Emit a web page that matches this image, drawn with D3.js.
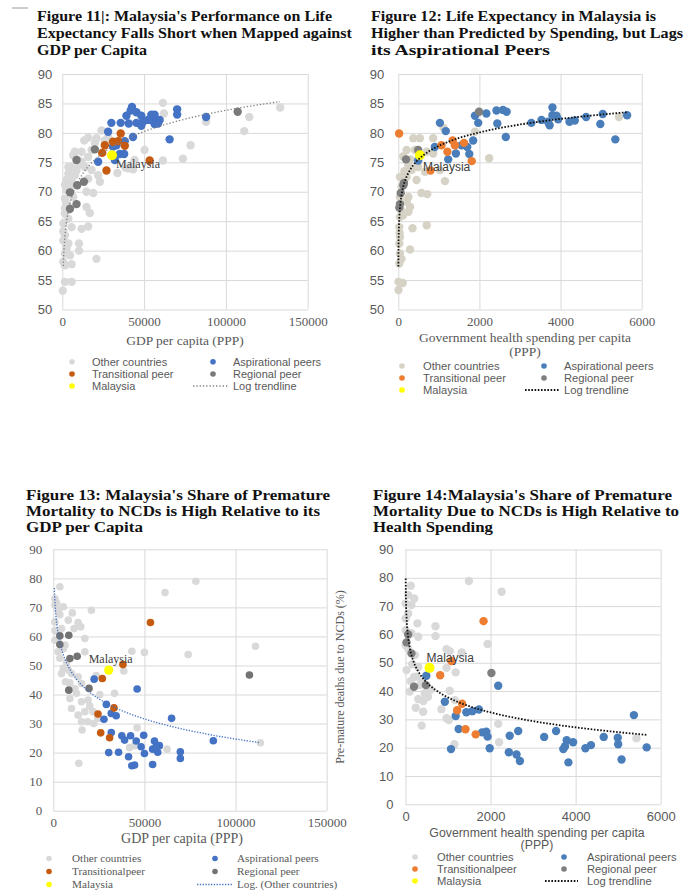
<!DOCTYPE html>
<html>
<head>
<meta charset="utf-8">
<script src="https://cdn.jsdelivr.net/npm/d3@7"></script>
<style>
body { margin: 0; background: #fff; }
</style>
</head>
<body>
<div id="chart"></div>
<script>
const ctx = {
    W: 684,
    H: 890,
    SERIF: "'Liberation Serif', 'Times New Roman', serif",
    SANS: "'Liberation Sans', Arial, sans-serif",
};

// ---- tick values ----
const leTicks = [50, 55, 60, 65, 70, 75, 80, 85, 90];
const ncdTicks = [0, 10, 20, 30, 40, 50, 60, 70, 80, 90];
const gdpTicks = [0, 50000, 100000, 150000];
const spendTicks = [0, 2000, 4000, 6000];

// ---- Figure 11: life expectancy vs GDP per capita ----
const fig11Other = [[61500,85.1],[62100,83.3],[87900,81.9],[114300,82.7],[111200,80.3],[133200,84.3],[78400,77.9],[73700,75.6],
    [61500,75.3],[50300,77.1],[43200,73.8],[38600,74.1],[33700,73.2],[24000,80.4],[20900,79.1],[15800,79.2],[13400,78.7],
    [17900,77.1],[11800,76.8],[7700,76.8],[15800,75.9],[11800,75.1],[13800,74.2],[5700,74.2],[3700,73.1],[7700,72.8],
    [17900,73.7],[21900,72.8],[23000,71.7],[15800,72.2],[2600,72.0],[4700,70.8],[14800,70.0],[18900,69.8],[1600,68.8],
    [2600,68.0],[6700,69.1],[14800,67.4],[16800,66.4],[1600,66.3],[3700,65.4],[5700,64.0],[600,64.6],[11800,63.7],
    [15800,64.1],[1600,62.6],[600,61.7],[10200,61.2],[10200,60.0],[3700,61.2],[1600,59.5],[4700,59.2],[600,58.1],
    [20900,58.6],[5700,57.7],[1600,57.5],[1600,54.7],[5700,54.7],[300,53.2],[6700,76.2],[9700,75.4],[3700,74.2],
    [26000,78.7],[28000,79.3],[19900,78.3],[43200,74.7],[44200,75.4],[40200,74.0],[2600,70.3],[1600,67.2],[3700,66.9],
    [600,63.3],[2600,60.4],[1600,71.2],[5700,71.8],[8700,73.6],[10700,74.6]];
const fig11Asp = [[42600,84.4],[41800,83.8],[45300,83.5],[39200,82.9],[48300,82.9],[54400,83.1],[56400,83.1],[59500,82.2],
    [70200,84.0],[70200,83.1],[30000,81.7],[35700,81.7],[40600,81.6],[45300,81.7],[49300,81.9],[56400,81.5],[58500,81.6],
    [48300,81.2],[28000,80.2],[43200,79.3],[38200,78.6],[65600,78.9],[87900,82.7],[35100,76.4],[37800,76.4],[21900,75.1],
    [32100,75.4],[31000,77.7],[33100,77.9],[55400,82.1],[52400,82.2]];
const fig11Trans = [[35700,79.9],[26000,77.9],[31000,78.5],[34100,78.6],[38200,77.8],[24400,76.6],[53400,75.3],[27000,73.6]];
const fig11Reg = [[19900,77.2],[8700,75.4],[13200,71.7],[9100,71.1],[4700,69.9],[8700,67.9],[4700,67.1],[107200,83.6]];
const fig11My = [[30400,76.2]];
const fig11TrendCoef = [5.17, 24.3];
const fig11TrendRange = [600, 133000];

// ---- Figure 12: life expectancy vs government health spending ----
const fig12Other = [[5440,82.7],[370,79.1],[530,79.1],[860,79.1],[1890,80.2],[1110,80.9],[205,77.1],[410,77.1],[700,76.8],
    [860,76.5],[250,74.5],[330,73.7],[490,74.2],[1025,73.7],[660,73.4],[1150,71.8],[2240,75.7],[205,72.5],[40,72.5],
    [450,72.0],[80,70.8],[570,69.8],[715,69.6],[40,69.1],[250,69.1],[205,68.3],[290,67.4],[250,66.6],[700,64.3],
    [350,63.8],[40,65.7],[25,64.0],[40,62.3],[25,61.2],[290,60.2],[40,59.5],[80,58.6],[25,57.8],[5,54.7],[110,54.5],
    [5,53.3],[120,76.0],[300,75.5],[150,73.5],[100,71.0],[60,67.0],[120,66.0],[30,63.0]];
const fig12Asp = [[1025,81.7],[1170,80.3],[1890,82.9],[2170,83.3],[1970,81.7],[2420,83.8],[2580,83.9],[2670,83.6],
    [2440,81.6],[2650,79.3],[3280,81.7],[3530,82.2],[3690,81.9],[3800,84.3],[3800,83.0],[3900,82.9],[3730,81.3],
    [3940,82.3],[4220,81.9],[4350,82.1],[4630,82.7],[5040,83.2],[4980,81.5],[5350,78.9],[5640,83.0],[900,77.6],
    [1420,76.5],[1230,75.5],[1750,76.4],[1700,77.6],[1845,78.7],[1560,77.9],[490,75.3]];
const fig12Trans = [[20,79.9],[1065,77.9],[1340,78.7],[1395,77.9],[1620,78.3],[1210,76.8],[1810,75.2],[795,73.6]];
const fig12Reg = [[1990,83.6],[490,77.1],[190,75.5],[140,71.5],[125,71.1],[60,69.8],[40,67.9],[25,67.3]];
const fig12My = [[533,76.2]];
const fig12TrendCoef = [3.3, 55.0];
const fig12TrendRange = [2, 5640];

// ---- Figure 13: premature NCD mortality vs GDP per capita ----
const fig13Other = [[3600,77.1],[78200,79.0],[61300,75.1],[900,73.0],[900,70.8],[2700,69.0],[5500,70.2],[10400,68.1],
    [20900,69.0],[13600,64.8],[15100,63.3],[17300,59.3],[900,65.0],[1800,61.8],[4500,62.7],[900,58.7],[5500,55.8],
    [110900,56.6],[43100,54.9],[50000,54.5],[74000,53.8],[17300,54.7],[2700,54.7],[38700,48.1],[5500,49.0],[4500,47.2],
    [10000,47.2],[6700,44.4],[13600,46.1],[15500,43.8],[12700,40.4],[33600,40.4],[9100,38.6],[10000,35.2],[15500,37.5],
    [19100,38.1],[17300,34.1],[13600,32.9],[21800,34.1],[15500,30.6],[18800,30.6],[24500,31.8],[22200,30.0],[15800,27.8],
    [46000,28.6],[44600,22.4],[41800,21.7],[62400,21.2],[14000,16.3],[113600,23.4],[6400,57.0],[8200,65.6],[11400,62.7],
    [1800,71.5],[3600,67.5],[900,62.0],[2700,59.0],[7300,51.0],[9100,44.0],[11800,42.0],[20000,36.0],[25500,40.0],
    [3600,52.5],[8200,48.5],[23600,46.5]];
const fig13Asp = [[22400,45.3],[46000,41.9],[29100,36.6],[31800,33.5],[34500,32.7],[27800,31.5],[64900,31.8],[31800,26.9],
    [37600,25.8],[39100,24.3],[42400,25.8],[45500,24.0],[49600,26.0],[55500,24.0],[58200,22.4],[48200,22.0],[54500,21.2],
    [50000,19.7],[57300,20.1],[30400,20.0],[35800,20.1],[41300,18.6],[43100,15.5],[44600,15.7],[54500,15.9],[69700,20.3],
    [69700,18.0],[87800,24.1],[56400,22.0]];
const fig13Trans = [[53300,64.8],[38200,50.3],[26900,45.5],[33300,35.4],[24500,33.3],[26000,26.8],[30900,25.1]];
const fig13Reg = [[3600,60.2],[8500,60.4],[3600,57.2],[13100,53.2],[9100,52.4],[8500,41.5],[19600,42.1],[107600,46.7]];
const fig13My = [[30400,48.4]];
const fig13TrendCoef = [-10.0, 139.8];
const fig13TrendRange = [550, 113600];

// ---- Figure 14: premature NCD mortality vs government health spending ----
const fig14Other = [[125,77.2],[1490,78.9],[2260,75.1],[205,72.7],[5,70.9],[63,67.4],[280,63.9],[705,62.9],[705,59.4],
    [300,59.2],[1930,56.6],[965,54.8],[1040,54.1],[1320,53.6],[5,61.5],[5,56.2],[220,52.7],[25,47.4],[965,48.2],
    [1180,46.6],[260,45.1],[380,43.3],[1040,40.1],[100,39.8],[300,37.2],[530,38.0],[240,34.1],[415,32.7],[845,33.6],
    [1160,36.8],[965,30.4],[1020,29.8],[380,27.8],[2180,28.4],[2200,21.9],[1150,21.2],[5430,23.3],[5,65.6],[63,73.9],
    [140,70.4],[140,60.4],[455,39.2],[340,42.1],[60,55.0],[160,49.5],[200,45.0],[300,48.5],[120,43.5],[420,36.5],[600,40.5]];
const fig14Asp = [[490,45.4],[925,36.2],[2180,41.9],[1180,31.2],[1430,32.5],[1570,32.9],[1725,33.5],[1250,26.6],
    [1800,25.4],[1900,25.6],[1930,23.9],[1070,19.5],[1980,19.8],[2450,24.2],[2650,25.9],[2430,18.4],[2610,17.6],
    [2690,15.3],[3260,23.8],[3540,25.9],[3790,22.6],[3940,21.9],[3750,20.5],[3710,19.5],[3830,14.8],[4230,19.8],
    [4360,20.9],[4660,23.8],[4990,23.5],[5000,21.2],[5080,15.8],[5370,31.5],[5670,20.1]];
const fig14Trans = [[1835,64.7],[1080,50.6],[815,45.6],[1330,35.5],[1215,33.2],[1410,26.5],[1650,24.7]];
const fig14Reg = [[2020,46.4],[63,60.0],[24,57.2],[140,53.3],[200,41.5],[480,42.1]];
const fig14My = [[565,48.2]];
const fig14TrendCoef = [-7.61, 90.3];
const fig14TrendRange = [4, 5670];

// ---- text ----
const title11 = ["Figure 11|: Malaysia's Performance on Life", "Expectancy Falls Short when Mapped against", "GDP per Capita"];
const title12 = ["Figure 12: Life Expectancy in Malaysia is", "Higher than Predicted by Spending, but Lags", "its Aspirational Peers"];
const title13 = ["Figure 13: Malaysia's Share of Premature", "Mortality to NCDs is High Relative to its", "GDP per Capita"];
const title14 = ["Figure 14:Malaysia's Share of Premature", "Mortality Due to NCDs is High Relative to", "Health Spending"];
const legend1112 = ["Other countries", "Transitional peer", "Malaysia", "Aspirational peers", "Regional peer", "Log trendline"];
const legend13 = ["Other countries", "Transitionalpeer", "Malaysia", "Aspirational peers", "Regional peer", "Log. (Other countries)"];
const legend14 = ["Other countries", "Transitionalpeer", "Malaysia", "Aspirational peers", "Regional peer", "Log trendline"];

function createViz() {
    const svg = d3.select("#chart")
        .append("svg")
        .attr("width", ctx.W)
        .attr("height", ctx.H)
        .style("font-family", ctx.SANS);

    // stray dash in the top left corner of the scan
    svg.append("line")
        .attr("x1", 12).attr("x2", 28).attr("y1", 8).attr("y2", 8)
        .attr("stroke", "#9a9a9a").attr("stroke-width", 1);

    const panels = [
        {
            title: title11, titleX: 37, titleY: 21, titleGap: 17.2, titleW: [295, 315, 110],
            x0: 62.3, x1: 307.7, y0: 309.5, y1: 74,
            xDomain: [0, 150000], yDomain: [50, 90], xTicks: gdpTicks, yTicks: leTicks,
            yTickFont: ctx.SANS, xTickFont: ctx.SERIF, yPad: 10, xPad: 7,
            xTitle: ["GDP per capita (PPP)"], xTitleX: 185, xTitleY: 345, xTitleGap: 14, xTitleFont: ctx.SERIF, xTitleSize: 13.5,
            series: [fig11Other, fig11Asp, fig11Trans, fig11Reg, fig11My],
            colors: ["#d9d9d9", "#4472c4", "#c55a11", "#7a7a7a", "#ffff00"],
            r: 4.2,
            trend: { coef: fig11TrendCoef, range: fig11TrendRange, color: "#7f7f7f", width: 1.3, dash: "1.3,2" },
            myLabel: { dx: 4, dy: 9, font: ctx.SERIF },
            legend: { rows: [361.7, 374, 386], m1: 72, t1: 92, m2: 213, t2: 233, line: [193, 229], font: ctx.SANS, size: 11, labels: legend1112 },
        },
        {
            title: title12, titleX: 371, titleY: 21, titleGap: 17.2, titleW: [285, 312, 179],
            x0: 398.3, x1: 641.7, y0: 309.5, y1: 74,
            xDomain: [0, 6000], yDomain: [50, 90], xTicks: spendTicks, yTicks: leTicks,
            yTickFont: ctx.SANS, xTickFont: ctx.SERIF, yPad: 14, xPad: 7,
            xTitle: ["Government health spending per capita", "(PPP)"], xTitleX: 525, xTitleY: 341.5, xTitleGap: 14, xTitleFont: ctx.SERIF, xTitleSize: 13.5,
            series: [fig12Other, fig12Asp, fig12Trans, fig12Reg, fig12My],
            colors: ["#d6d3c6", "#4a7ebb", "#ed7d31", "#7f7f7f", "#ffff00"],
            r: 4.2,
            trend: { coef: fig12TrendCoef, range: fig12TrendRange, color: "#111", width: 1.8, dash: "1.6,1.6" },
            myLabel: { dx: 3, dy: 12, font: ctx.SANS },
            legend: { rows: [366, 378, 390], m1: 402, t1: 423, m2: 544, t2: 564, line: [525, 560], font: ctx.SANS, size: 11.2, labels: legend1112 },
        },
        {
            title: title13, titleX: 26, titleY: 500, titleGap: 15.9, titleW: [304, 294, 117],
            x0: 53.3, x1: 326.7, y0: 810.7, y1: 549.3,
            xDomain: [0, 150000], yDomain: [0, 90], xTicks: gdpTicks, yTicks: ncdTicks,
            yTickFont: ctx.SERIF, xTickFont: ctx.SERIF, yPad: 11, xPad: 7,
            xTitle: ["GDP per capita (PPP)"], xTitleX: 182, xTitleY: 843, xTitleGap: 14, xTitleFont: ctx.SERIF, xTitleSize: 14,
            series: [fig13Other, fig13Asp, fig13Trans, fig13Reg, fig13My],
            colors: ["#d9d9d9", "#4472c4", "#c55a11", "#737373", "#ffff00"],
            r: 3.8,
            trend: { coef: fig13TrendCoef, range: fig13TrendRange, color: "#4472c4", width: 1.3, dash: "1.3,1.5" },
            myLabel: { dx: -20, dy: -11, font: ctx.SERIF },
            legend: { rows: [858.5, 871.5, 884.5], m1: 49, t1: 72, m2: 215, t2: 237, line: [197, 233], font: ctx.SERIF, size: 11.2, labels: legend13 },
        },
        {
            title: title14, titleX: 373, titleY: 500, titleGap: 15.9, titleW: [299, 306, 120],
            x0: 405.5, x1: 660.7, y0: 804.3, y1: 549.5,
            xDomain: [0, 6000], yDomain: [0, 90], xTicks: spendTicks, yTicks: ncdTicks,
            yTickFont: ctx.SANS, xTickFont: ctx.SANS, yPad: 12, xPad: 7,
            xTitle: ["Government health spending per capita", "(PPP)"], xTitleX: 537, xTitleY: 836.5, xTitleGap: 12.5, xTitleFont: ctx.SANS, xTitleSize: 12.3,
            series: [fig14Other, fig14Asp, fig14Trans, fig14Reg, fig14My],
            colors: ["#d9d9d9", "#4a7ebb", "#ed7d31", "#7f7f7f", "#ffff00"],
            r: 4.2,
            trend: { coef: fig14TrendCoef, range: fig14TrendRange, color: "#111", width: 1.8, dash: "1.6,1.6" },
            myLabel: { dx: -3, dy: -10, font: ctx.SANS },
            legend: { rows: [857, 869, 881], m1: 415, t1: 437, m2: 564, t2: 587, line: [545, 578], font: ctx.SANS, size: 11.2, labels: legend14 },
        },
    ];

    panels.forEach(p => drawPanel(svg, p));

    // y axis title of figure 14 (sits between the two lower panels)
    svg.append("text")
        .attr("transform", "translate(344,677) rotate(-90)")
        .attr("text-anchor", "middle")
        .style("font-family", ctx.SERIF)
        .style("font-size", "12px")
        .attr("fill", "#595959")
        .text("Pre-mature deaths due to NCDs (%)");
}

function drawPanel(svg, p) {
    const x = d3.scaleLinear().domain(p.xDomain).range([p.x0, p.x1]);
    const y = d3.scaleLinear().domain(p.yDomain).range([p.y0, p.y1]);
    const g = svg.append("g");

    // title, each line stretched to the width it has in the scan
    g.selectAll(".title")
        .data(p.title)
        .join("text")
        .attr("class", "title")
        .attr("x", p.titleX)
        .attr("y", (d, i) => p.titleY + i * p.titleGap)
        .attr("textLength", (d, i) => p.titleW[i])
        .attr("lengthAdjust", "spacingAndGlyphs")
        .style("font-family", ctx.SERIF)
        .style("font-weight", "bold")
        .style("font-size", "14.5px")
        .attr("fill", "#111")
        .text(d => d);

    // axes with gridlines
    const yAxis = g.append("g")
        .attr("transform", `translate(${p.x0},0)`)
        .call(d3.axisLeft(y).tickValues(p.yTicks).tickSize(-(p.x1 - p.x0)).tickPadding(p.yPad).tickFormat(d3.format("d")));
    const xAxis = g.append("g")
        .attr("transform", `translate(0,${p.y0})`)
        .call(d3.axisBottom(x).tickValues(p.xTicks).tickSize(-(p.y0 - p.y1)).tickPadding(p.xPad).tickFormat(d3.format("d")));

    [yAxis, xAxis].forEach(a => {
        a.select(".domain").remove();
        a.selectAll(".tick line").attr("stroke", "#d9d9d9").attr("stroke-width", 1);
        a.selectAll(".tick text").attr("fill", "#595959").style("font-size", "13px");
    });
    yAxis.selectAll(".tick text").style("font-family", p.yTickFont);
    xAxis.selectAll(".tick text").style("font-family", p.xTickFont);

    // x axis title
    const xt = g.append("text")
        .attr("x", p.xTitleX).attr("y", p.xTitleY)
        .attr("text-anchor", "middle")
        .style("font-family", p.xTitleFont)
        .style("font-size", p.xTitleSize + "px")
        .attr("fill", "#595959");
    p.xTitle.forEach((line, i) => {
        xt.append("tspan").attr("x", p.xTitleX).attr("dy", i === 0 ? 0 : p.xTitleGap).text(line);
    });

    // points
    p.series.forEach((data, i) => {
        g.append("g")
            .selectAll("circle")
            .data(data)
            .join("circle")
            .attr("cx", d => x(d[0]))
            .attr("cy", d => y(d[1]))
            .attr("r", i === 4 ? p.r + 0.8 : p.r)
            .attr("fill", p.colors[i]);
    });

    // Malaysia label
    const my = p.series[4][0];
    g.append("text")
        .attr("x", x(my[0]) + p.myLabel.dx)
        .attr("y", y(my[1]) + p.myLabel.dy)
        .attr("dy", "0.35em")
        .style("font-family", p.myLabel.font)
        .style("font-size", "12px")
        .attr("fill", "#404040")
        .text("Malaysia");

    // log trendline
    const [a, b] = p.trend.coef;
    const [from, to] = p.trend.range;
    const xs = d3.range(0, 301).map(i => from * Math.pow(to / from, i / 300));
    g.append("path")
        .datum(xs)
        .attr("fill", "none")
        .attr("stroke", p.trend.color)
        .attr("stroke-width", p.trend.width)
        .attr("stroke-dasharray", p.trend.dash)
        .attr("d", d3.line().x(d => x(d)).y(d => y(a * Math.log(d) + b)));

    // legend
    const L = p.legend;
    const items = [
        { m: L.m1, t: L.t1, row: 0, color: p.colors[0], label: L.labels[0] },
        { m: L.m1, t: L.t1, row: 1, color: p.colors[2], label: L.labels[1] },
        { m: L.m1, t: L.t1, row: 2, color: p.colors[4], label: L.labels[2] },
        { m: L.m2, t: L.t2, row: 0, color: p.colors[1], label: L.labels[3] },
        { m: L.m2, t: L.t2, row: 1, color: p.colors[3], label: L.labels[4] },
    ];
    const lg = g.append("g");
    lg.selectAll("circle")
        .data(items)
        .join("circle")
        .attr("cx", d => d.m)
        .attr("cy", d => L.rows[d.row])
        .attr("r", 2.8)
        .attr("fill", d => d.color);
    lg.selectAll("text")
        .data(items.concat([{ t: L.t2, row: 2, label: L.labels[5] }]))
        .join("text")
        .attr("x", d => d.t)
        .attr("y", d => L.rows[d.row])
        .attr("dy", "0.35em")
        .style("font-family", L.font)
        .style("font-size", L.size + "px")
        .attr("fill", "#595959")
        .text(d => d.label);
    lg.append("line")
        .attr("x1", L.line[0]).attr("x2", L.line[1])
        .attr("y1", L.rows[2]).attr("y2", L.rows[2])
        .attr("stroke", p.trend.color)
        .attr("stroke-width", p.trend.width)
        .attr("stroke-dasharray", p.trend.dash);
}

createViz();
</script>
</body>
</html>
